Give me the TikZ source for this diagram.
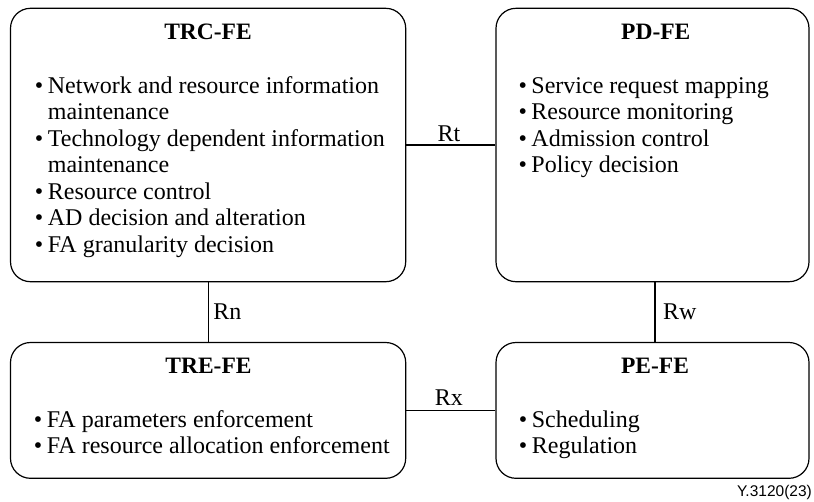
\documentclass[tikz,border=0pt]{standalone}
\usepackage{fontspec}
\setmainfont{Liberation Serif}
\newfontfamily\figfont{Liberation Sans}
\newcommand\bitem{\makebox[13pt][l]{•}}
\newcommand\bcont{\hspace*{13pt}}
\tikzset{
  fbox/.style={draw=black, line width=1.2pt, rounded corners=20pt, inner sep=0pt},
  ttl/.style={inner sep=0pt, anchor=base, font=\fontsize{23.5}{26}\selectfont\bfseries},
  bodytext/.style={inner sep=0pt, anchor=base west, font=\fontsize{24}{26.5}\selectfont},
  conn/.style={draw=black, line width=1.2pt},
  lbl/.style={inner sep=0pt, font=\fontsize{24}{26.5}\selectfont}
}
\begin{document}
\begin{tikzpicture}[x=1pt,y=-1pt]
\useasboundingbox (0,0) rectangle (814,501);
% boxes
\node[fbox, minimum width=395.2pt, minimum height=273.4pt] (trc) at (208.1,145) {};
\node[fbox, minimum width=313pt, minimum height=273.4pt] (pd) at (652.5,145) {};
\node[fbox, minimum width=395.2pt, minimum height=135.8pt] (tre) at (208.1,410.4) {};
\node[fbox, minimum width=313pt, minimum height=135.8pt] (pe) at (652.5,410.4) {};
% titles
\node[ttl] (trct) at (208,39.5) {TRC-FE};
\node[ttl] (pdt) at (655.8,39.5) {PD-FE};
\node[ttl] (tret) at (208.5,373.5) {TRE-FE};
\node[ttl] (pet) at (655,373.5) {PE-FE};
% bodies
\node[bodytext] (trcb) at (34.7,93.3) {\parbox[t]{365pt}{%
\bitem Network and resource information\\
\bcont maintenance\\
\bitem Technology dependent information\\
\bcont maintenance\\
\bitem Resource control\\
\bitem AD decision and alteration\\
\bitem FA granularity decision}};
\node[bodytext] (pdb) at (518.3,93.3) {\parbox[t]{285pt}{%
\bitem Service request mapping\\
\bitem Resource monitoring\\
\bitem Admission control\\
\bitem Policy decision}};
\node[bodytext] (treb) at (33.7,427) {\parbox[t]{365pt}{%
\bitem FA parameters enforcement\\
\bitem FA resource allocation enforcement}};
\node[bodytext] (peb) at (518.7,427) {\parbox[t]{285pt}{%
\bitem Scheduling\\
\bitem Regulation}};
% connectors
\draw[conn] (trc.east) -- (pd.west)
  node[lbl, midway, anchor=base, yshift=3.3pt, xshift=-2pt] (rt) {Rt};
\draw[conn] (trc.south) -- (tre.north)
  node[lbl, midway, anchor=west, xshift=4.7pt] (rn) {Rn};
\draw[conn] ([xshift=2.5pt]pd.south) -- ([xshift=2.5pt]pe.north)
  node[lbl, midway, anchor=west, xshift=7.5pt] (rw) {Rw};
\draw[conn] (tre.east) -- (pe.west)
  node[lbl, midway, anchor=base, yshift=5pt, xshift=-2pt] (rx) {Rx};
% figure id
\node[inner sep=0pt, anchor=base east, font=\figfont\fontsize{15.5}{17}\selectfont] (fid) at (812,496.5) {Y.3120(23)};
\end{tikzpicture}
\end{document}
